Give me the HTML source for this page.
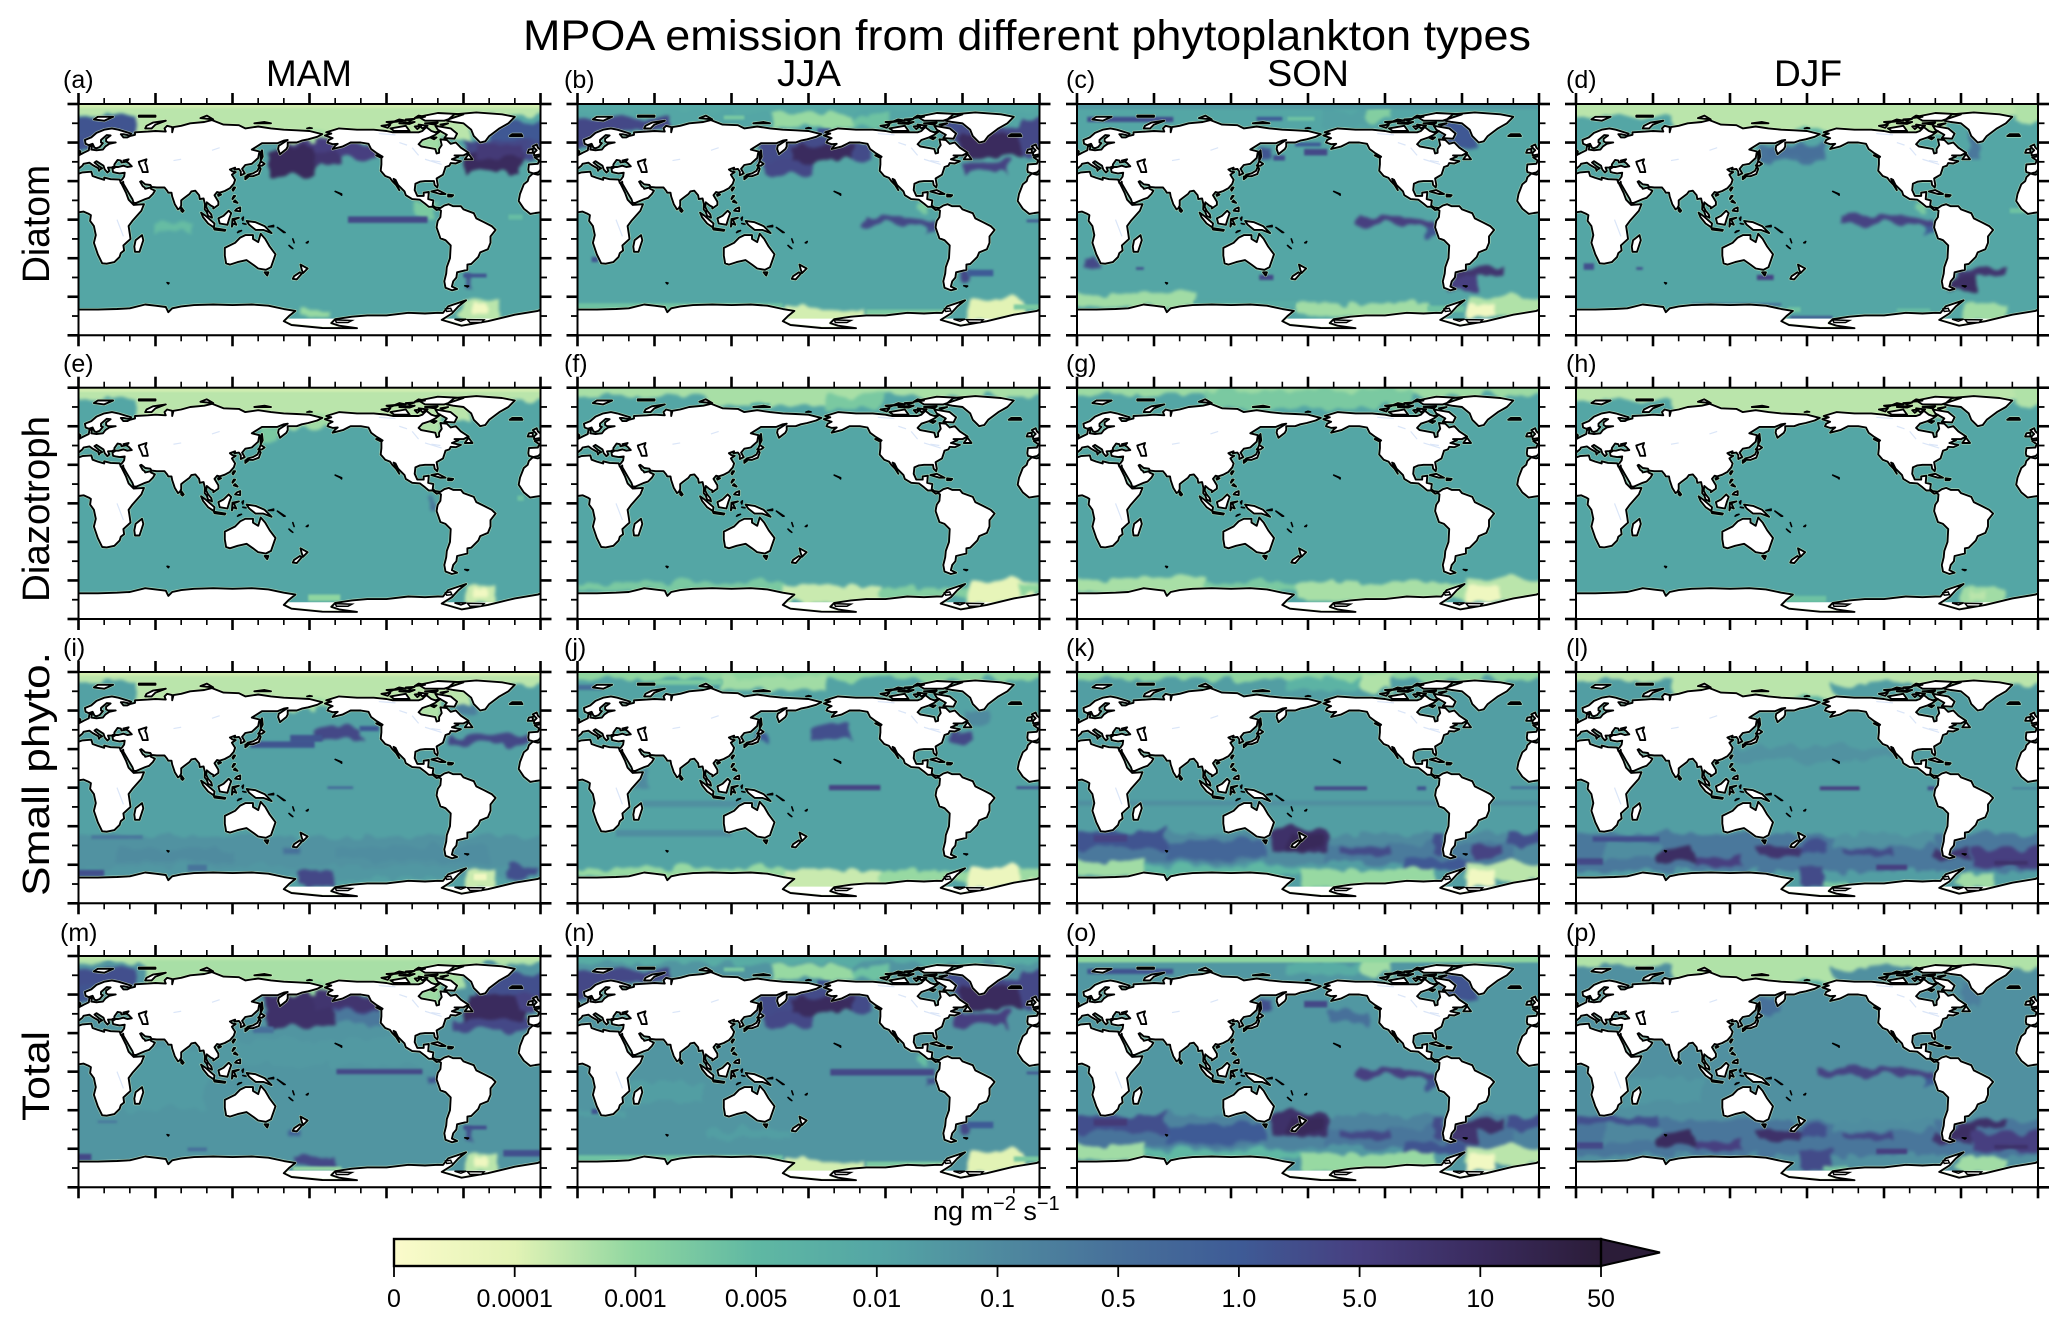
<!DOCTYPE html>
<html lang="en">
<head>
<meta charset="utf-8">
<title>MPOA emission from different phytoplankton types</title>
<style>
html,body{margin:0;padding:0;background:#fff;}
#figure{display:block;width:2067px;height:1326px;font-family:"Liberation Sans",Arial,sans-serif;fill:#000;}
</style>
</head>
<body>
<svg id="figure" xmlns="http://www.w3.org/2000/svg" width="2067" height="1326" viewBox="0 0 2067 1326">
<defs>
<filter id="soft" filterUnits="userSpaceOnUse" x="-30" y="-30" width="522" height="292" color-interpolation-filters="sRGB">
<feTurbulence type="fractalNoise" baseFrequency="0.05" numOctaves="2" seed="4" result="n"/>
<feDisplacementMap in="SourceGraphic" in2="n" scale="17" xChannelSelector="R" yChannelSelector="G" result="d"/>
<feGaussianBlur in="d" stdDeviation="1.5"/>
</filter>
<filter id="crisp" filterUnits="userSpaceOnUse" x="-30" y="-30" width="522" height="292" color-interpolation-filters="sRGB">
<feGaussianBlur stdDeviation="1.1"/>
</filter>
<clipPath id="mapClip"><rect x="0" y="0" width="462" height="231.3"/></clipPath>
<linearGradient id="cbGradient" x1="0" x2="1" y1="0" y2="0"></linearGradient>
</defs>
<text x="1027" y="50" font-size="43" text-anchor="middle" textLength="1008" lengthAdjust="spacingAndGlyphs">MPOA emission from different phytoplankton types</text>
<text x="309" y="86" font-size="37" text-anchor="middle" textLength="86" lengthAdjust="spacingAndGlyphs">MAM</text>
<text x="809" y="86" font-size="37" text-anchor="middle" textLength="64" lengthAdjust="spacingAndGlyphs">JJA</text>
<text x="1308" y="86" font-size="37" text-anchor="middle" textLength="82" lengthAdjust="spacingAndGlyphs">SON</text>
<text x="1808" y="86" font-size="37" text-anchor="middle" textLength="68" lengthAdjust="spacingAndGlyphs">DJF</text>
<text transform="translate(49,224) rotate(-90)" font-size="38" text-anchor="middle" textLength="118" lengthAdjust="spacingAndGlyphs">Diatom</text>
<text transform="translate(49,509) rotate(-90)" font-size="38" text-anchor="middle" textLength="186" lengthAdjust="spacingAndGlyphs">Diazotroph</text>
<text transform="translate(49,774) rotate(-90)" font-size="38" text-anchor="middle" textLength="244" lengthAdjust="spacingAndGlyphs">Small phyto.</text>
<text transform="translate(49,1076) rotate(-90)" font-size="38" text-anchor="middle" textLength="90" lengthAdjust="spacingAndGlyphs">Total</text>
<text x="933" y="1220" font-size="27">ng m<tspan dy="-10" font-size="20">−2</tspan><tspan dy="10"> s</tspan><tspan dy="-10" font-size="20">−1</tspan></text>
<g id="panels"></g>
<g id="colorbar"></g>
</svg>
<script>
// Values are in ng m-2 s-1. Each record: [lonWest, lonEast, latSouth, latNorth, value]
const colLabels = ["MAM","JJA","SON","DJF"];
const rowLabels = ["Diatom","Diazotroph","Small phyto.","Total"];
const panelLetters = ["(a)","(b)","(c)","(d)","(e)","(f)","(g)","(h)","(i)","(j)","(k)","(l)","(m)","(n)","(o)","(p)"];
const lonTicks = [0,60,120,180,240,300,360];
const lonMinorTicks = [20,40,80,100,140,160,200,220,260,280,320,340];
const latTicks = [90,60,30,0,-30,-60,-90];
const latMinorTicks = [75,45,15,-15,-45,-75];
const cbValues = [0,0.0001,0.001,0.005,0.01,0.1,0.5,1,5,10,50];
const cbLabels = ["0","0.0001","0.001","0.005","0.01","0.1","0.5","1.0","5.0","10","50"];
const cbColors = ["#fbfbcb","#e2f3b5","#8fd6a0","#5fb8a3","#54a6a5","#4f8a9f","#47709a","#3e5b96","#473f80","#3a2b5e","#2b1c38"];

const diatomMAM = [[0,360,-90,90,.01],[45,305,63,90,.0003],[0,60,81,90,.0003],[300,360,81,90,.0003],[0,360,87,90,.00015],[160,205,58,68,.0006],[265,283,50,66,.0006],
[0,45,66,80,1.5],[0,14,50,66,1.6],[320,360,60,76,1.2],[345,360,48,62,2.5],[300,350,50,62,3],[302,346,37,52,10],[310,345,48,58,6],
[148,232,47,60,5],[148,185,34,57,11],[185,205,43,52,7],[140,156,54,62,.02],[210,272,-2.5,2.5,3],[58,90,-9,-2,.004],[262,280,4,14,.002],[335,346,0,4,.004],
[300,304,-53,-42,2],[300,318,-45,-42,1.5],[297,328,-79,-62,.0003],[306,318,-72,-65,.00004],[172,198,-76,-70,.0008]];
const diatomJJA = [[0,360,-90,90,.01],[0,360,84,90,.009],[153,215,72,83,.0008],[114,130,78,81,.002],[215,246,72,80,.003],[0,72,69,79,3],[0,15,52,70,3],[187,197,66,71,1.5],
[145,184,35,46,3],[140,228,46,62,2.5],[166,215,45,57,10],[285,309,62,77,2],[296,360,50,72,3],[298,345,49,67,10],[345,360,65,79,3],[302,335,37,45,4],
[221,279,-4,2,3],[272,279,-9,-3,2],[350,360,-2,0,1.5],[11,16,-33,-29,1.5],[298,304,-50,-38,3],[304,324,-44,-39,1],
[0,160,-70,-65,.003],[160,225,-80,-68,.00015],[225,290,-75,-70,.002],[303,350,-78,-62,.0001],[340,360,-70,-66,.002],[265,275,8,14,.002]];
const diatomSON = [[0,360,-90,90,.01],[0,360,86,90,.03],[8,75,76,80,2],[140,160,77,80,1],[164,185,77,80,.003],[226,247,75,84,.0015],[190,226,72,85,.015],
[140,153,48,57,1.5],[153,162,46,50,2],[177,195,50,55,3],[170,190,57,60,1],[285,312,54,77,1.2],[216,278,-4,2,5],[272,280,-13,-4,1.5],
[6,17,-39,-27,3],[46,52,-39,-37,2],[142,153,-47,-43,3],[294,335,-45,-38,7],[291,312,-55,-45,5],
[0,91,-68,-57,.0006],[91,170,-68,-63,.008],[169,273,-75,-65,.0006],[302,360,-75,-60,.0004],[302,325,-75,-66,.00004],[273,302,-72,-67,.003]];
const diatomDJF = [[0,360,-90,90,.01],[0,360,80,90,.0003],[76,290,64,90,.0003],[340,360,76,90,.0004],[170,200,64,70,.006],[141,195,45,58,.4],[150,195,49,56,.5],[305,315,49,70,.3],
[206,279,-3.5,3,4],[272,280,-10,-3,1],[338,349,5,9,.003],[265,275,8,14,.002],[6,14,-39,-34,2],[47,52,-39,-37,2],[141,154,-47,-43,4],
[297,338,-45,-39,7],[292,312,-55,-45,9],[300,336,-78,-65,.0006],[167,200,-77,-75,1.5],[165,175,-72,-68,.003],[250,276,-72,-69,.004],[90,160,-67,-65,.5]];

const diazoMAM = [[0,360,-90,90,.01],[45,305,65,90,.0003],[0,60,81,90,.0003],[305,360,80,90,.0003],[0,360,87,90,.00015],[160,205,58,68,.0006],[265,283,50,66,.0004],
[140,156,48,60,.002],[274,279,-4,9,.3],[342,347,2,6,.003],[300,324,-77,-64,.0002],[307,318,-72,-66,.00004],[179,204,-76,-71,.001]];
const diazoJJA = [[0,360,-90,90,.01],[0,360,83,90,.0005],[100,193,76,86,.0005],[135,150,75,78,.006],[193,240,74,84,.002],[0,160,-68,-62,.002],[158,238,-78,-64,.0002],[238,303,-74,-66,.0015],[303,358,-78,-60,.00008],[345,360,-70,-62,.001]];
const diazoSON = [[0,360,-90,90,.01],[0,360,84,90,.0007],[100,260,74,88,.002],[0,100,-70,-58,.0005],[100,170,-68,-62,.002],[170,300,-76,-62,.0005],[300,360,-76,-58,.0003],[302,330,-76,-64,.00005]];
const diazoDJF = [[0,360,-90,90,.01],[0,360,80,90,.0003],[76,290,64,90,.0003],[340,360,76,90,.0004],[298,335,-78,-65,.0006],[306,318,-74,-68,.0003],[165,195,-77,-72,.003]];

const smallMAM = [[0,360,-90,90,.015],[45,305,65,90,.0003],[0,60,82,90,.0003],[305,360,80,90,.0003],[0,360,87,90,.00015],[160,205,60,68,.0006],[265,283,52,66,.0004],
[0,360,-62,-38,.05],[30,120,-58,-48,.09],[200,320,-58,-46,.08],[0,360,-70,-62,.035],[134,184,31,36,1.5],[165,190,36,41,1.5],[184,219,37,46,3],[219,234,44,48,1.2],[289,358,34,41,3],[296,310,56,65,.2],[194,214,-1,1,.6],
[0,20,-69,-64,2],[170,200,-77,-65,3],[334,358,-69,-61,2],[160,172,-52,-46,.5],[10,50,-40,-37,.3],[85,100,-65,-60,.4],[300,324,-78,-64,.0002],[308,318,-72,-67,.00004]];
const smallJJA = [[0,360,-90,90,.013],[0,360,84,90,.001],[113,193,76,86,.0006],[60,113,80,84,.002],[0,20,76,80,.5],[138,148,35,43,1],[183,213,37,48,2],[290,308,36,44,3],[300,320,50,60,.1],
[196,236,-2,2,4],[342,360,-1,1,2],[40,55,0,15,.1],[50,140,-15,-10,.06],[30,120,-38,-33,.08],[140,150,-32,-25,.1],
[0,160,-70,-63,.0008],[160,238,-80,-64,.0002],[238,303,-74,-65,.0008],[303,358,-78,-62,.00006],[345,360,-72,-62,.0007]];
const smallSON = [[0,360,-90,90,.02],[0,360,84,90,.001],[221,247,74,88,.0004],[160,221,76,85,.006],[280,310,70,78,.02],[0,360,-60,-36,.1],[0,140,-58,-46,.3],[195,340,-60,-44,.25],[0,360,-14,-10,.06],
[0,70,-48,-34,1.5],[13,39,-42,-37,4],[70,148,-56,-41,.7],[153,195,-50,-32,8],[165,190,-48,-36,12],[205,244,-54,-46,2.5],[278,285,-52,-36,2],[307,333,-54,-46,4],[338,360,-46,-34,2],[257,304,-64,-56,1.2],
[185,226,-2,1,3],[265,272,-2,1,1.5],[338,360,-1,1,.5],[0,52,-69,-56,.0006],[52,175,-68,-62,.005],[175,278,-78,-64,.0008],[300,360,-72,-58,.0003],[303,325,-76,-64,.00004]];
const smallDJF = [[0,360,-90,90,.02],[0,360,83,90,.0003],[76,200,65,90,.0003],[200,360,80,90,.0003],[170,200,64,70,.006],[120,250,21,32,.05],[0,360,-65,-36,.3],[21,65,-54,-43,.08],[200,280,-46,-36,.05],
[13,65,-42,-38,2],[65,92,-59,-46,9],[92,130,-61,-54,5],[0,21,-60,-55,3],[141,175,-54,-45,7],[175,195,-50,-42,2],[208,247,-54,-48,2.5],[234,258,-64,-60,5],[279,305,-55,-48,7],[307,360,-62,-48,5],[326,352,-60,-57,8],
[175,195,-77,-62,2.5],[297,325,-77,-67,.0006],[195,210,-78,-72,.002],[190,221,-2,1,5],[274,280,-2,1,2],[340,360,-1,0,.4]];

const totalMAM = [[0,360,-90,90,.04],[40,100,-30,18,.025],[100,280,5,25,.03],[55,300,65,90,.0005],[0,55,84,90,.0004],[300,360,84,90,.0004],[0,360,87,90,.00025],[160,205,60,68,.001],[265,283,52,66,.0007],
[0,45,66,80,2],[0,12,50,66,1.5],[136,152,30,35,.5],[146,235,44,60,3],[146,200,35,60,8],[185,235,48,60,7],[200,240,38,46,.3],[292,360,32,42,3],[310,360,60,76,2],[302,349,40,60,10],[340,360,48,60,4],
[201,268,-2,2,3],[272,279,-8,-2,1.5],[0,10,-69,-64,3],[167,201,-74,-66,3],[331,360,-66,-61,2],[85,100,-62,-59,.5],[300,318,-45,-42,2],[300,305,-53,-44,2],[15,30,-40,-38,.3],[166,172,-50,-44,.8],
[300,326,-78,-64,.0003],[308,318,-73,-66,.00005],[167,205,-77,-74,.0008]];
const totalJJA = [[0,360,-90,90,.04],[40,100,-25,-8,.02],[0,40,-35,-28,.02],[100,170,-52,-45,.02],[0,360,84,90,.008],[153,215,72,83,.0008],[114,130,78,81,.002],[215,246,72,80,.003],[0,72,69,79,3],[0,15,52,70,3],[187,197,66,71,1.5],
[145,184,35,46,3],[140,228,46,62,2.5],[166,215,45,57,10],[285,309,62,77,2],[296,360,50,72,3],[298,345,49,67,10],[345,360,65,79,3],[293,335,36,46,5],
[197,278,-3,2,3],[272,279,-9,-3,2],[350,360,-2,0,1.5],[11,16,-33,-29,1.5],[140,146,-35,-30,.5],[298,304,-50,-38,3],[304,324,-44,-39,1],
[0,160,-70,-65,.003],[160,225,-80,-68,.00015],[225,290,-75,-70,.002],[303,350,-78,-62,.0001],[340,360,-70,-66,.002],[265,275,8,14,.004]];
const totalSON = [[0,360,-90,90,.035],[0,360,85,90,.001],[221,247,74,88,.0006],[160,221,76,85,.008],[8,75,76,80,1.5],[140,153,48,57,2],[177,195,50,55,3],[195,225,38,46,.5],[285,312,54,77,1.5],[0,360,-60,-34,.15],[0,140,-58,-46,.4],[195,340,-60,-44,.35],
[216,278,-4,2,5],[272,280,-13,-4,1.5],[0,70,-48,-34,2],[13,39,-42,-37,6],[70,148,-56,-41,1],[153,195,-50,-32,8],[165,190,-48,-36,12],[205,244,-54,-46,3],[278,285,-52,-36,2.5],[294,335,-47,-38,8],[291,312,-55,-45,7],[338,360,-46,-34,2],[257,304,-64,-56,1.5],
[0,52,-69,-56,.0006],[52,175,-68,-62,.005],[175,278,-78,-64,.0008],[300,360,-72,-58,.0003],[303,325,-76,-64,.00004]];
const totalDJF = [[0,360,-90,90,.06],[40,100,-25,-5,.035],[0,360,82,90,.0004],[76,200,67,90,.0004],[200,360,80,90,.0004],[170,200,64,70,.008],[141,160,45,58,.5],[300,315,52,70,.2],[0,360,-65,-38,.35],[21,65,-54,-43,.12],[200,280,-46,-38,.08],
[0,65,-42,-35,2],[65,92,-59,-46,10],[92,130,-61,-54,5],[0,21,-60,-55,3],[141,175,-54,-45,8],[175,195,-50,-42,2],[208,247,-54,-48,3],[234,258,-64,-60,5],[279,305,-55,-48,7],[297,338,-45,-39,8],[292,312,-52,-44,9],[307,360,-62,-48,5],[326,352,-60,-57,8],
[175,200,-77,-62,2.5],[297,336,-78,-66,.0006],[195,210,-78,-72,.002],[190,279,-3,3,4],[272,280,-10,-3,1]];

const panelSeries = [diatomMAM,diatomJJA,diatomSON,diatomDJF,diazoMAM,diazoJJA,diazoSON,diazoDJF,smallMAM,smallJJA,smallSON,smallDJF,totalMAM,totalJJA,totalSON,totalDJF];

// Coastlines as flat lon,lat lists
const landPolygons = [
[-9,37,-9.5,39,-9,43,-2,43.5,-1,46,-4.5,48.5,-1.5,49,2,51,4,52,8,54,8.5,57,10.5,57.5,10,54.5,14,54,19,54.5,21,57,24,59,29,60,23,60,21.5,61,21.5,63,25,65.5,22,65.8,17.5,62,17.5,60,19,59.5,16.5,56.5,14,55.5,12.5,56,11,59,8,58,5.5,59,5,62,10,64,14,67.5,20,70,26,71,31,70,41,67,40,65.5,35,66.5,33,66.5,35,64,38,64,40,65,44,66,44,68,54,68.5,60,69,68,68.5,67,71,69,73,73,72,73,68,74,72,80,73,87,75,98,76,104,77.5,113,74,125,73.5,130,71,140,72.5,150,71,160,70,170,69.5,180,69,190,66.5,186,64.5,179,62.5,174,61.5,170,60,163,60,163,57,162,55,157,51,155.5,55,156,57.5,163,62,160,61.5,155,59.5,143,59.5,135,54.5,141,53,140,48,135,43.5,130,42.5,127.5,39.5,129.5,36,126.5,34.5,126.5,37.5,125,39.5,121.5,39,122,40.5,118,39,120,37.5,122.5,37,119.5,35,122,31,121,28,118,24.5,114,22.3,110,21,108,21.5,106,19,109,14,109,11.5,105,8.7,105,10,103,11,100,13.5,99.5,10,101,7,103.5,4,104,1.5,101,3,100,6,98.3,8,98.5,12,97.5,16.5,94.5,16,94,19,91,22.5,88,22,86.5,20,82,16.5,80,15,80,11,79,9,77.5,8,75,12,73,18,72.5,21,70,21,69,22.5,67,25,61,25,57,25.5,56,27,52,27.5,49,30,48,29.5,50,26,51.5,25,52,24,56,25,56.5,24,59.5,22.5,58,20,55,17,52,16,45,13,43,13,42,16,39,21,35,28,34.8,29.5,34,28,33,28.5,32.5,30,34,31.3,35.5,33.5,36,36.5,32,36,29,36.5,27,37,26.5,39.5,29,41,31,41,35,42,38,41,41.5,41.5,39,44,37.5,45,39,47,35,46,36.5,45,33.5,44.5,33,46,30.5,46.5,28,43,28,41.5,26,40.7,23,40.5,24,38,22.5,36.7,20.5,39,19.5,42,14,45.5,12.5,44.5,16,41.5,18.5,40,16.5,39,16,38,15.5,40,11,42.5,8.5,44.3,4,43.5,3,42,0,39.5,-0.5,38,-2,36.8,-5.5,36],
[-6,35.8,-2,35,3,36.8,10,37.3,11,34,15,32.5,20,31,20,32.7,25,31.5,32,31.2,32.5,30,35,25,37,21,39,15.5,43,11.5,51,12,49,7,42,-1,39,-5,40,-11,40.5,-15,35,-20,35.5,-24,33,-26,32,-29,28,-33,22,-34.3,18.5,-34,15,-27,12,-18,13.5,-12,12,-5,9,-1,9.7,3.5,8,4.5,4,6.3,-4,5.2,-8,4.5,-13,8.5,-17,14.5,-16,20,-13,27.5,-10,30,-9,33],
[49.5,-12,50.5,-16,47.5,-25,44,-25,43.5,-21,44.5,-16],[-5,50,1,51,1.5,53,-2,56,-3,58.5,-6,57,-3,54,-5,52],[-10,52,-6,52,-6,55,-9,54.5],[-24,65,-14,65,-15,66.5,-22,66.5],
[52,71,57,71,60,74,68,77,58,75.5,53,73],[12,78,20,77,27,80,15,80],[47,80,60,80,60,81,47,81],[95,79,105,78,100,81],[137,75,150,75,145,76],
[131,34,136,33.8,140.5,35.5,142,39.5,141,41.2,139.5,38,136,36,132,35],[140,42,143,42,145,43.5,142,45.5,141,43],[130,31.5,132,33,130,33.5],[142,46,143.5,49,143,54,142,52],
[120.5,22.5,122,25,121,25,120,23.5],[109,18.5,111,19.5,110,20,108.7,19.5],[120,16,122,18.5,121,18.5,120,16.5],[121,14,124,13,122,15],[122,7,126,6.5,126,9.5,123.5,8.5],
[95.5,5.5,99,3,106,-3,105.5,-6,101,-3,97,2],[105.5,-6.5,114.5,-8,114,-8.7,106,-7.7],[109,1,113,3,117,7,119,5,117.5,1,116,-4,110,-3],[119.5,-5.5,120,0.5,125,1.5,121,0,123,-4,120.5,-3],
[131,-1,138,-2,145,-5,150.5,-10.5,144,-8,138,-8,133,-4],
[80,9.5,82,7,81,6,80,7],[114,-22,122,-18,126,-14,130,-12,136,-12,136,-15,140,-17.5,142,-11,145.5,-15,149,-21,153.5,-27,150,-37,146,-39,140,-38,136,-35,131,-31.5,124,-33,118,-35,115,-34,114,-28],[145,-41,148,-41,147,-43.5],
[173,-35,178.5,-38,175,-41.5,174,-39],[172.5,-41,174,-42,170,-46.5,167,-46,168,-44],
[192,65.5,197,67,193,68,203,71,217,70,230,70,240,69,245,68,255,68,265,68,268,69,271,72,275,69,278,68,282,69,278,66,274,64,268,62,265,58.7,267,57,278,55,279,51.5,281,52,281,55,283,58,282,62.5,287,62,290,59,294,60,298,56,304,52,300,50,293,50,296,49,291,47,295,46,298,45.5,294,43.7,290,44,289,42,286,41,285,38,284,35,279,32,280,27,279.5,25,277.5,27,277,30,270,30,266,29.5,262.5,28,262,23,264,18.5,269,18.5,269,21,273,21.5,272.5,16,276.5,15,276,11,278,9.5,282,9,285,11,288.5,12,292,10.5,298,10.5,300,8,308,5,310,1,316,-2,322,-5,325,-8,321,-13,321,-18,319,-23,313,-25.5,311.5,-29,306,-34.5,303,-35,303,-39,295,-41,294.5,-45,292,-48,291,-52,295,-54,291,-55,286,-53,285,-48,286.5,-42,287,-37,289.5,-30,290,-20,286,-16,282,-14.5,279,-6,279.5,-3,280,-1,282,2,282.5,7,281,8,279,7.5,276,10,273,10,270,12.5,266,15.5,260,16,255,19,254,22,249,27,247,31,245.5,31.7,248,27,250,23,247.5,27,244.5,30,242.7,32.5,239,34,235.5,38,236,43,236,48,237,49,232,52,228,55,226,59,220,60,212,60,210,59,206,57,198,55,200,57.5,202,59,198,58.7,194,60,195,62,198,63.5,195,64.5],
[278,73,290,71,295,67,293,63,285,63.5,287,66,280,70],[243,71,255,73,258,69,246,69],[270,77,285,77,300,82,280,83,265,80],[236,73,243,74,241,71.5],[250,75,262,76,258,74.5],[265,74,272,73,268,71],[262,79,270,80,265,81],[274,64,279,64,277,62.5],[270,75,280,75.5,278,74],[245,76,255,77,250,78],[255,78,262,78.5,258,77],[240,76,247,76.5,243,75],[282,74,288,75,284,73.5],[262,72.5,267,73,264,70.5],
[301,47,307,47,304,51],[287,77,293,82,310,83.5,330,82,340,80,335,75,328,71,320,65,317,61,313,60,308,65,306,70,300,75,292,76],[275,22,280,23,286,20,282,20],[288,19.5,292,19,291,18,288,18],[232,50,235,48.5,236.5,49,234,50.5],
[47,45,53,47,52,44,53,42,54,37,50,37,49,40,47.5,43],
[0,-70,15,-70,30,-69.5,40,-69,52,-66,60,-67,68,-68,70,-72,73,-69,80,-67.5,90,-66.5,105,-66,120,-66.5,135,-66,148,-67,160,-69.5,169,-71,164,-75,160,-79,166,-82,190,-84.3,217,-84.5,203,-82.5,197,-80.5,200,-77.5,213,-75.5,225,-74.5,240,-74.5,257,-72.5,270,-73,280,-72.5,284,-72.6,288,-67.5,302,-62.8,296,-67.5,291,-73,283,-78,298.5,-82.5,319,-79,340,-74,358,-71,360,-70,360,-90,0,-90]
];
const tinyIslands = [[178,71,182,71.2,180,71.6],[200,22,205,20,205,19,204,20],[69,-49,70.5,-49.3,70,-50],[301,-51.5,304,-51.7,303,-52.3],[124,-10,127,-8.5,125,-9],[128,-3,130.5,-3.5,129,-3.3],[127.5,1,128.5,2,128,-0.5],[148,-5.5,152,-4.5,152,-5.5],[155,-6,161,-10,160,-10],[167,-15,168,-18,167.3,-16],[177.5,-18,179,-17,178.5,-18],[164,-20,167,-22.5,165.5,-21.5]];
const iceShelfMasks = [[160,-77,213,-77,218,-90,160,-90],[283,-77,330,-77,335,-90,283,-90]];
const extraCoastLoops = [[286,-69.5,290,-69,291,-71,287,-71.5],[200,-78,213,-78.5,210,-80,201,-80],[303,-77.8,316,-78,314,-80,305,-80],[293,-77.5,302,-77.5,298,-79]];
const lakeLines = [[234,67,247,66],[260,56,265,50],[270,47,283,43],[104,54,110,56],[30,0,35,-13],[74,46,80,47],[250,60,256,58],[275,46,282,45]];

const colX = [78.5,577.5,1077,1576];
const rowY = [104,387.7,672,956];
const mapW = 462, mapH = 231.3;
const labelX = [63,564,1066,1566];
const labelY = [88,372,656,941];

function xAxis(lon){ return lon / 360 * mapW; }
function yAxis(lat){ return (90 - lat) / 180 * mapH; }
function hexRGB(h){ return [parseInt(h.slice(1,3),16),parseInt(h.slice(3,5),16),parseInt(h.slice(5,7),16)]; }
function colorScale(v){
  let i = 0;
  while (i < cbValues.length - 2 && v >= cbValues[i+1]) i++;
  let f = i === 0 ? v / cbValues[1] : Math.log(v / cbValues[i]) / Math.log(cbValues[i+1] / cbValues[i]);
  f = Math.max(0, Math.min(1, f));
  const a = hexRGB(cbColors[i]), b = hexRGB(cbColors[i+1]);
  return 'rgb(' + a.map(function(c, k){ return Math.round(c + (b[k]-c)*f); }).join(',') + ')';
}
const NS = 'http://www.w3.org/2000/svg';
function mk(tag, attrs, parent){
  const el = document.createElementNS(NS, tag);
  for (const k in attrs) el.setAttribute(k, attrs[k]);
  parent.appendChild(el);
  return el;
}
function polyPath(p, off){
  let d = '';
  for (let i = 0; i < p.length; i += 2) d += (i ? 'L' : 'M') + xAxis(p[i] + off).toFixed(1) + ' ' + yAxis(p[i+1]).toFixed(1);
  return d + 'Z';
}
let landPath = '';
landPolygons.forEach(function(p){ landPath += polyPath(p, 0) + polyPath(p, 360); });
let tinyPath = '';
tinyIslands.forEach(function(p){ tinyPath += polyPath(p, 0); });
let maskPath = '';
iceShelfMasks.forEach(function(p){ maskPath += polyPath(p, 0); });
let loopPath = '';
extraCoastLoops.forEach(function(p){ loopPath += polyPath(p, 0); });
let lakePath = '';
lakeLines.forEach(function(l){ lakePath += 'M' + xAxis(l[0]) + ' ' + yAxis(l[1]) + 'L' + xAxis(l[2]) + ' ' + yAxis(l[3]); });

const panelsRoot = document.getElementById('panels');
panelSeries.forEach(function(series, idx){
  const r = Math.floor(idx / 4), c = idx % 4;
  const g = mk('g', {transform: 'translate(' + colX[c] + ',' + rowY[r] + ')'}, panelsRoot);
  
  
  const clip = mk('g', {'clip-path': 'url(#mapClip)'}, g);
  const heat = mk('g', {filter: 'url(#soft)'}, clip);
  const heatThin = mk('g', {filter: 'url(#crisp)'}, clip);
  series.forEach(function(d){
    const x0 = xAxis(d[0] <= 0 ? d[0] - 12 : d[0]);
    const x1 = xAxis(d[1] >= 360 ? d[1] + 12 : d[1]);
    const y0 = yAxis(d[3] >= 90 ? d[3] + 12 : d[3]);
    const y1 = yAxis(d[2] <= -90 ? d[2] - 12 : d[2]);
    const target = (d[3] - d[2] <= 5) ? heatThin : heat;
    const cell = mk('rect', {x: x0, y: y0, width: x1 - x0, height: y1 - y0, fill: colorScale(d[4])}, target);
    
    
  });
  const mask = mk('path', {d: maskPath, fill: '#fff'}, clip);
  
  
  const halo = mk('path', {d: landPath, fill: 'none', stroke: '#dff5c8', 'stroke-width': 3.2, 'stroke-linejoin': 'round', opacity: .55}, clip);
  
  
  const land = mk('path', {d: landPath, fill: '#fff', stroke: '#000', 'stroke-width': 1.9, 'stroke-linejoin': 'round'}, clip);
  
  
  const tiny = mk('path', {d: tinyPath, fill: '#000', stroke: '#000', 'stroke-width': 1.6, 'stroke-linejoin': 'round'}, clip);
  
  
  const loops = mk('path', {d: loopPath, fill: '#fff', stroke: '#000', 'stroke-width': 1.5}, clip);
  
  
  const lakes = mk('path', {d: lakePath, fill: 'none', stroke: '#dbe6f8', 'stroke-width': 1.2}, clip);
  
  
  const frame = mk('rect', {x: 0, y: 0, width: mapW, height: mapH, fill: 'none', stroke: '#000', 'stroke-width': 2}, g);
  
  
  const ticks = mk('g', {stroke: '#000'}, g);
  
  
  function vt(lon, len, w){
    const x = xAxis(lon);
    mk('line', {x1: x, x2: x, y1: -len, y2: 0, 'stroke-width': w}, ticks);
    mk('line', {x1: x, x2: x, y1: mapH, y2: mapH + len, 'stroke-width': w}, ticks);
  }
  function ht(lat, len, w){
    const y = yAxis(lat);
    mk('line', {y1: y, y2: y, x1: -len, x2: 0, 'stroke-width': w}, ticks);
    mk('line', {y1: y, y2: y, x1: mapW, x2: mapW + len, 'stroke-width': w}, ticks);
  }
  lonTicks.forEach(function(v){ vt(v, 11, 2.6); });
  lonMinorTicks.forEach(function(v){ vt(v, 6, 1.6); });
  latTicks.forEach(function(v){ ht(v, 11, 2.6); });
  latMinorTicks.forEach(function(v){ ht(v, 6.5, 1.8); });
  const lab = mk('text', {x: idx === 12 ? 60 : labelX[c], y: labelY[r], 'font-size': 25}, panelsRoot);
  lab.textContent = panelLetters[idx];
  
  
});

// Colorbar
const grad = document.getElementById('cbGradient');
cbColors.forEach(function(col, i){ mk('stop', {offset: (i / (cbColors.length - 1)), 'stop-color': col}, grad); });
const cb = document.getElementById('colorbar');
const cbX0 = 394, cbX1 = 1601, cbTop = 1239, cbBot = 1266, cbTip = 1660;
function cbAxis(i){ return cbX0 + (cbX1 - cbX0) * i / (cbValues.length - 1); }
const tip = mk('path', {d: 'M' + cbX1 + ' ' + cbTop + 'L' + cbTip + ' ' + ((cbTop + cbBot) / 2) + 'L' + cbX1 + ' ' + cbBot + 'Z', fill: cbColors[cbColors.length - 1], stroke: '#000', 'stroke-width': 2}, cb);


const bar = mk('rect', {x: cbX0, y: cbTop, width: cbX1 - cbX0, height: cbBot - cbTop, fill: 'url(#cbGradient)', stroke: '#000', 'stroke-width': 2.4}, cb);


cbLabels.forEach(function(t, i){
  const x = cbAxis(i);
  const tk = mk('line', {x1: x, x2: x, y1: cbBot, y2: 1277, stroke: '#000', 'stroke-width': 1.8}, cb);
  
  
  const lb = mk('text', {x: x, y: 1307, 'font-size': 25, 'text-anchor': 'middle'}, cb);
  lb.textContent = t;
  
  
});
</script>
</body>
</html>
